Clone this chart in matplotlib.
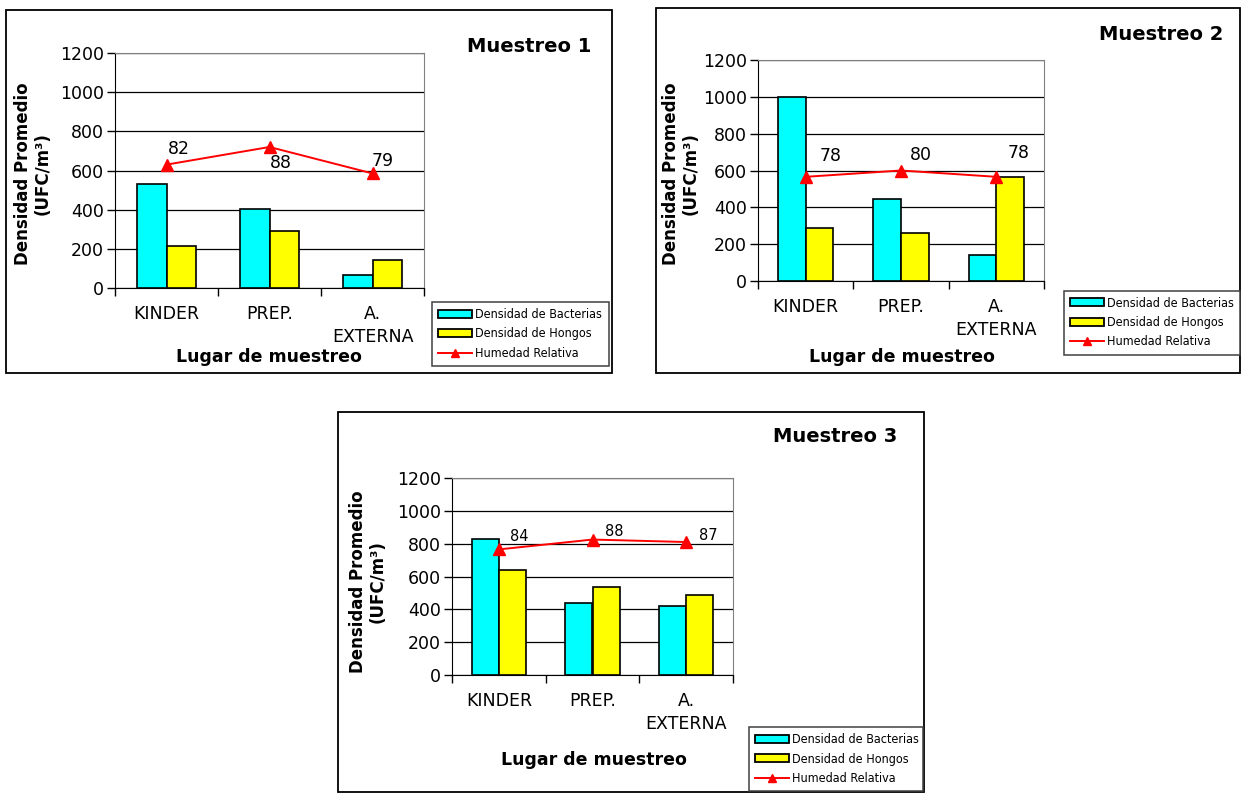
"""Densidad promedio de bacterias y hongos por lugar de muestreo,
con humedad relativa en un eje secundario (tres muestreos)."""
import matplotlib

matplotlib.use("Agg")
import matplotlib.pyplot as plt  # noqa: E402
from matplotlib.patches import Rectangle  # noqa: E402
from matplotlib.lines import Line2D  # noqa: E402
from matplotlib.patches import Patch  # noqa: E402

W, H = 1241, 793

lugares = ["KINDER", "PREP.", "A.\nEXTERNA"]
series = ["Densidad de Bacterias", "Densidad de Hongos", "Humedad Relativa"]

bacterias_m1 = [530, 405, 65]
hongos_m1 = [213, 290, 141]
humedad_m1 = [82, 88, 79]

bacterias_m2 = [1000, 447, 142]
hongos_m2 = [288, 263, 563]
humedad_m2 = [78, 80, 78]

bacterias_m3 = [826, 441, 422]
hongos_m3 = [640, 533, 490]
humedad_m3 = [84, 88, 87]

yticks = [0, 200, 400, 600, 800, 1000, 1200]

C_BACT = "#00FFFF"
C_HONG = "#FFFF00"
C_HUM = "#FF0000"

plt.rcParams.update({
    "font.family": ["DejaVu Sans"],
    "font.size": 12,
})

fig = plt.figure(figsize=(W / 100, H / 100), dpi=100)
fig.patch.set_facecolor("white")


def fx(px):
    return px / W


def fy(py):
    return 1 - py / H


def rect(l, t, r, b):
    return [fx(l), fy(b), (r - l) / W, (b - t) / H]


def panel(box, plot, leg, titulo, title_xy, ylab_xy, xlab_xy,
          bact, hong, hum, hum_lim, lbl_off, lbl_size):
    # marco del gráfico
    l, t, r, b = box
    fig.patches.append(Rectangle((fx(l), fy(b)), (r - l) / W, (b - t) / H,
                                 transform=fig.transFigure, fill=False,
                                 edgecolor="black", lw=1.3, zorder=0))

    ax = fig.add_axes(rect(*plot))
    x = list(range(len(lugares)))
    w = 0.29
    ax.bar([i - w / 2 for i in x], bact, w, color=C_BACT,
           edgecolor="black", lw=1.2, zorder=3)
    ax.bar([i + w / 2 for i in x], hong, w, color=C_HONG,
           edgecolor="black", lw=1.2, zorder=3)
    ax.set_xlim(-0.5, len(lugares) - 0.5)
    ax.set_ylim(0, 1200)
    ax.set_yticks(yticks)
    ax.yaxis.grid(True, color="black", lw=0.9, zorder=1)
    ax.set_axisbelow(True)
    ax.tick_params(axis="y", direction="out", length=6, width=1,
                   labelsize=12.5, pad=2)
    # marcas del eje x entre categorías, etiquetas centradas
    ax.set_xticks([i - 0.5 for i in range(len(lugares) + 1)])
    ax.set_xticklabels([])
    ax.set_xticks(x, minor=True)
    ax.set_xticklabels(lugares, minor=True, fontsize=12.5, linespacing=1.35,
                       va="top")
    ax.tick_params(axis="x", which="major", direction="out", length=6, width=1)
    ax.tick_params(axis="x", which="minor", length=0, pad=12)
    for s in ("top", "right"):
        ax.spines[s].set_color("#808080")
    for s in ("left", "bottom"):
        ax.spines[s].set_color("black")

    ax2 = ax.twinx()
    ax2.set_ylim(*hum_lim)
    ax2.plot(x, hum, color=C_HUM, lw=1.4, marker="^", markersize=8,
             zorder=5)
    for i, v in enumerate(hum):
        dx, dy = lbl_off[i]
        ax2.annotate(str(v), (x[i], v), xytext=(dx * 0.72, -dy * 0.72),
                     textcoords="offset points", ha="center", va="center",
                     fontsize=lbl_size)
    ax2.set_yticks([])
    for s in ax2.spines.values():
        s.set_visible(False)

    fig.text(fx(title_xy[0]), fy(title_xy[1]), titulo, ha="right",
             va="center", fontsize=14, fontweight="bold")
    fig.text(fx(ylab_xy[0]), fy(ylab_xy[1]),
             "Densidad Promedio\n(UFC/m\u00b3)", rotation=90, ha="center",
             va="center", ma="center", fontsize=12, fontweight="bold",
             linespacing=1.15)
    fig.text(fx(xlab_xy[0]), fy(xlab_xy[1]), "Lugar de muestreo",
             ha="center", va="center", fontsize=12.5, fontweight="bold")

    handles = [
        Patch(facecolor=C_BACT, edgecolor="black", lw=1.3),
        Patch(facecolor=C_HONG, edgecolor="black", lw=1.3),
        Line2D([], [], color=C_HUM, lw=1.4, marker="^", markersize=6),
    ]
    ll, lt, lr, lb = leg
    lg = fig.legend(handles, series, loc="center left",
                    bbox_to_anchor=(fx(ll), fy(lb), (lr - ll) / W,
                                    (lb - lt) / H),
                    mode="expand", borderaxespad=0, fancybox=False,
                    framealpha=1, edgecolor="#404040",
                    prop={"family": "DejaVu Sans", "stretch": "condensed",
                          "size": 9},
                    handlelength=2.7, handleheight=0.6, handletextpad=0.25,
                    labelspacing=0.5, borderpad=0.5)
    lg.get_frame().set_linewidth(1.1)


panel(box=(6, 10, 612, 373), plot=(115, 53, 424, 288),
      leg=(432, 302, 609, 366), titulo="Muestreo 1", title_xy=(591, 47),
      ylab_xy=(33, 174), xlab_xy=(269, 357),
      bact=bacterias_m1, hong=hongos_m1, hum=humedad_m1, hum_lim=(40, 120),
      lbl_off=[(12, -16), (11, 16), (10, -12)], lbl_size=12.5)

panel(box=(656, 8, 1240, 373), plot=(758, 60, 1044, 281),
      leg=(1064, 290, 1240, 355), titulo="Muestreo 2", title_xy=(1223, 35),
      ylab_xy=(681, 174), xlab_xy=(902, 357),
      bact=bacterias_m2, hong=hongos_m2, hum=humedad_m2, hum_lim=(45, 115),
      lbl_off=[(25, -21), (20, -15), (22, -24)], lbl_size=12.5)

panel(box=(338, 412, 924, 792), plot=(452, 478, 733, 675),
      leg=(749, 727, 923, 791), titulo="Muestreo 3", title_xy=(897, 437),
      ylab_xy=(368, 582), xlab_xy=(594, 760),
      bact=bacterias_m3, hong=hongos_m3, hum=humedad_m3, hum_lim=(33, 113),
      lbl_off=[(20, -13), (22, -8), (22, -7)], lbl_size=10.5)

fig.savefig("out.png", dpi=100)
